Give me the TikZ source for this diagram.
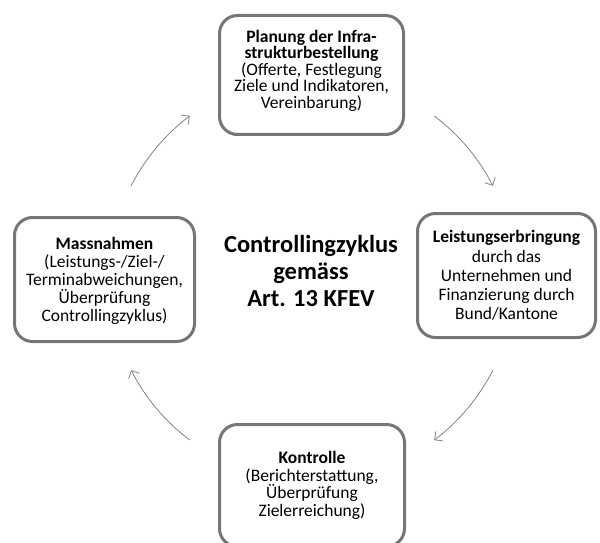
\documentclass[tikz,border=0pt]{standalone}
\usepackage{fontspec}
\setmainfont{Carlito}
\usepackage{tikz}
\usetikzlibrary{arrows.meta,positioning,calc}

\definecolor{boxgrau}{RGB}{118,118,118}
\definecolor{pfeilgrau}{RGB}{130,130,130}

\tikzset{
	phase/.style={draw=boxgrau, line width=3pt, rounded corners=18pt, align=center,
		inner sep=2pt},
	zyklus/.style={draw=pfeilgrau, line width=0.8pt,
		-{Straight Barb[length=6pt,width=12pt,line width=0.8pt]}}
}

\begin{document}
\begin{tikzpicture}[x=1pt,y=1pt]
	\useasboundingbox (0,0) rectangle (600,542);

	\coordinate (zentrum) at (312,264);

	\node (planung) [phase, minimum width=184pt, minimum height=119pt, text depth=12pt,
		font=\fontsize{17.5}{16.5}\selectfont] at (311.5,467) {\textbf{Planung der Infra-}\\\textbf{strukturbestellung}\\(Offerte, Festlegung\\Ziele und Indikatoren,\\Vereinbarung)};

	\node (leistung) [phase, minimum width=178pt, minimum height=124pt,
		font=\fontsize{17.5}{19.2}\selectfont] at (506.5,266.5) {\textbf{Leistungserbringung}\\durch das\\Unternehmen und\\Finanzierung durch\\Bund/Kantone};

	\node (kontrolle) [phase, minimum width=185pt, minimum height=122pt,
		font=\fontsize{17.5}{17.6}\selectfont] at (312,56.5) {\textbf{Kontrolle}\\(Berichterstattung,\\Überprüfung\\Zielerreichung)};

	\node (massnahmen) [phase, minimum width=180pt, minimum height=124pt, text depth=0pt,
		font=\fontsize{17.5}{18}\selectfont] at (104.5,262.5) {\textbf{Massnahmen}\\(Leistungs-/Ziel-/\\Terminabweichungen,\\Überprüfung\\Controllingzyklus)};

	\node (titel) [align=center, font=\fontsize{24.5}{27}\selectfont\bfseries] at (311,271) {Controllingzyklus\\gemäss\\Art. 13 KFEV};

	% Pfeile im Kreis
	\draw[zyklus] ($(zentrum)+(53:203)$) arc[start angle=53, end angle=27, radius=203];
	\draw[zyklus] ($(zentrum)+(-27:203)$) arc[start angle=-27, end angle=-53, radius=203];
	\draw[zyklus] ($(zentrum)+(-127:203)$) arc[start angle=-127, end angle=-153, radius=203];
	\draw[zyklus] ($(zentrum)+(153:203)$) arc[start angle=153, end angle=127, radius=203];
\end{tikzpicture}
\end{document}
